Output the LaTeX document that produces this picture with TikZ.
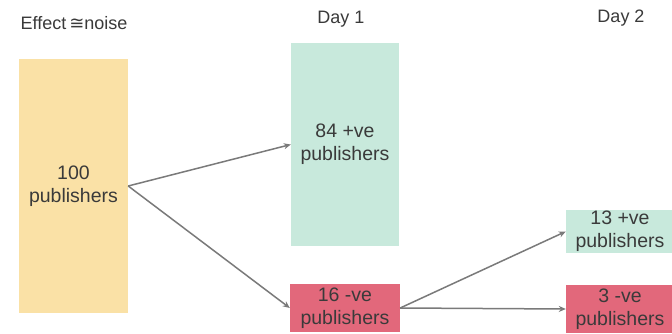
\documentclass[tikz,border=0pt]{standalone}
\usepackage{fontspec}
\usetikzlibrary{arrows.meta}
\setmainfont{Liberation Sans}
\newfontfamily\symfont{DejaVu Sans}
\definecolor{pubyellow}{HTML}{FAE1A6}
\definecolor{posgreen}{HTML}{C8E9DC}
\definecolor{negred}{HTML}{E2687B}
\definecolor{inkgray}{HTML}{3A3A3A}
\definecolor{flowgray}{HTML}{7A7A7A}

\begin{document}
\begin{tikzpicture}[x=1pt,y=-1pt,
  box/.style={inner sep=0pt, align=center, text=inkgray, font=\fontsize{19.5}{23}\selectfont},
  flow/.style={draw=flowgray, line width=1.5pt, -{Stealth[length=7pt,width=6pt]}},
  heading/.style={text=inkgray, font=\fontsize{18}{21}\selectfont}]
\clip (0,0) rectangle (672,334);
\fill[white] (0,0) rectangle (672,334);

% headings
\node[heading] (effect) at (74,23) {Effect\,{\symfont ≅}noise};
\node[heading] (day1) at (341,19) {Day 1};
\node[heading] (day2) at (621,18) {Day 2};

% boxes
\node[box, fill=pubyellow, minimum width=109pt, minimum height=254pt] (pub) at (73.5,186) {100\\publishers};
\node[box, fill=posgreen, minimum width=108pt, minimum height=203pt] (pos1) at (345,144.5) {84 +ve\\publishers};
\node[box, fill=negred, minimum width=110pt, minimum height=48pt] (neg1) at (345,308) {16 -ve\\publishers};
\node[box, fill=posgreen, minimum width=108pt, minimum height=43pt] (pos2) at (620,231.5) {13 +ve\\publishers};
\node[box, fill=negred, minimum width=108pt, minimum height=48pt] (neg2) at (620,309) {3 -ve\\publishers};

% arrows
\draw[flow] (pub.east) -- (pos1.west);
\draw[flow] (pub.east) -- (neg1.west);
\draw[flow] (neg1.east) -- (pos2.west);
\draw[flow] (neg1.east) -- (neg2.west);
\end{tikzpicture}
\end{document}
